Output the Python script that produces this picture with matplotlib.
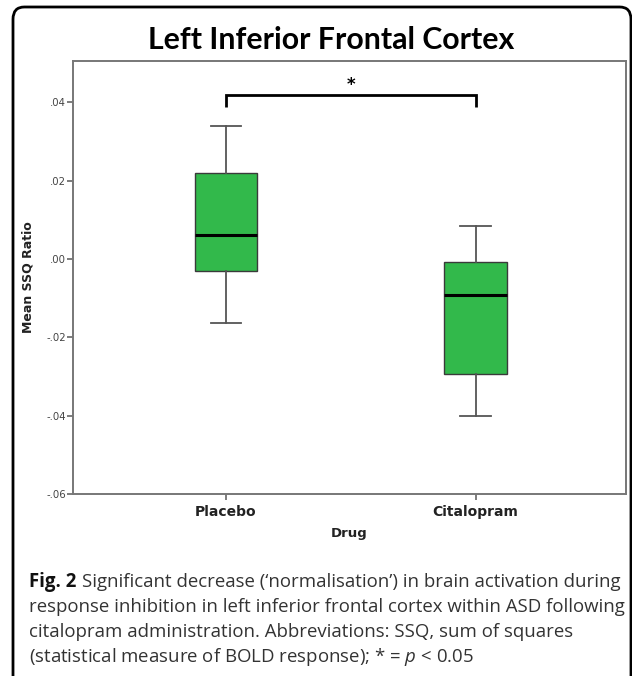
import matplotlib
matplotlib.use("Agg")
import matplotlib.pyplot as plt
from matplotlib.patches import FancyBboxPatch

plt.rcParams["mathtext.fontset"] = "custom"
plt.rcParams["mathtext.it"] = "Open Sans:italic"
plt.rcParams["mathtext.rm"] = "Open Sans"

# ---- data ----
groups = ["Placebo", "Citalopram"]
whisker_low = [-0.0163, -0.0402]
q1 = [-0.0031, -0.0293]
median = [0.0061, -0.0093]
q3 = [0.0219, -0.0009]
whisker_high = [0.0338, 0.0083]
yticks = [0.04, 0.02, 0.00, -0.02, -0.04, -0.06]
ytick_labels = [".04", ".02", ".00", "-.02", "-.04", "-.06"]
title = "Left Inferior Frontal Cortex"
caption_label = "Fig. 2"
caption_lines = [
    "Significant decrease (\u2018normalisation\u2019) in brain activation during",
    "response inhibition in left inferior frontal cortex within ASD following",
    "citalopram administration. Abbreviations: SSQ, sum of squares",
    "(statistical measure of BOLD response); * = $p$ < 0.05",
]

W, H = 632, 676
fig = plt.figure(figsize=(W / 100, H / 100), dpi=100)

# outer rounded frame
frame = FancyBboxPatch((13 / W, -0.05), (631 - 13) / W, 1.05 - 7 / H,
                       boxstyle="round,pad=0,rounding_size=0.018",
                       transform=fig.transFigure, fill=False,
                       edgecolor="black", linewidth=2.0, clip_on=False)
fig.patches.append(frame)

ax = fig.add_axes([73 / W, 1 - 494 / H, (626 - 73) / W, (494 - 61) / H])

stats = []
for i, g in enumerate(groups):
    stats.append(dict(label=g, whislo=whisker_low[i], q1=q1[i], med=median[i],
                      q3=q3[i], whishi=whisker_high[i], fliers=[]))

ax.bxp(stats, positions=[0, 1], widths=0.25, patch_artist=True, showfliers=False,
       boxprops=dict(facecolor="#32B94B", edgecolor="#3a3a3a", linewidth=1.0),
       medianprops=dict(color="black", linewidth=2.2),
       whiskerprops=dict(color="#555555", linewidth=1.3),
       capprops=dict(color="#555555", linewidth=1.3),
       capwidths=0.123)

ax.set_xlim(-0.613, 1.603)
ax.set_ylim(-0.06, 0.0505)
ax.set_yticks(yticks)
ax.set_yticklabels(ytick_labels, fontsize=7.3, color="#444444", family="DejaVu Sans")
ax.set_xticks([0, 1])
ax.set_xticklabels(groups, fontsize=10, fontweight="bold", family="DejaVu Sans", color="#222222")
ax.tick_params(axis="y", direction="out", length=4, width=1.2, color="#666666", pad=1)
ax.tick_params(axis="x", direction="out", length=4, width=1.2, color="#666666", pad=4)
for s in ax.spines.values():
    s.set_color("#777777")
    s.set_linewidth(1.4)

ax.set_ylabel("Mean SSQ Ratio", fontsize=9, fontweight="bold", family="DejaVu Sans",
              labelpad=8.5, color="#222222")
ax.set_xlabel("Drug", fontsize=9.5, fontweight="bold", family="DejaVu Sans",
              labelpad=6, color="#222222")

# significance bracket
ax.plot([0, 0, 1, 1], [0.0388, 0.0419, 0.0419, 0.0388], color="black",
        linewidth=2.0, solid_capstyle="butt", solid_joinstyle="miter")
ax.text(0.5, 0.0444, "*", ha="center", va="center", fontsize=12,
        fontweight="bold", family="DejaVu Sans")

fig.text(331 / W, 1 - 40 / H, title, ha="center", va="center", fontsize=21.8,
         fontweight="bold", family="Lato")

# caption
y0 = 582
dy = 25
cap_fs = 13.4
lab = fig.text(29 / W, 1 - y0 / H, caption_label, ha="left", va="center", fontsize=cap_fs,
               fontweight="bold", family="Open Sans", color="#111111")
fig.canvas.draw()
bb = lab.get_window_extent(renderer=fig.canvas.get_renderer())
fig.text((bb.x1 + 6) / W, 1 - y0 / H, caption_lines[0], ha="left", va="center",
         fontsize=cap_fs, family="Open Sans", color="#333333")
for k in range(1, 4):
    fig.text(29 / W, 1 - (y0 + k * dy) / H, caption_lines[k], ha="left",
             va="center", fontsize=cap_fs, family="Open Sans", color="#333333")

fig.savefig("out.png", dpi=100)
